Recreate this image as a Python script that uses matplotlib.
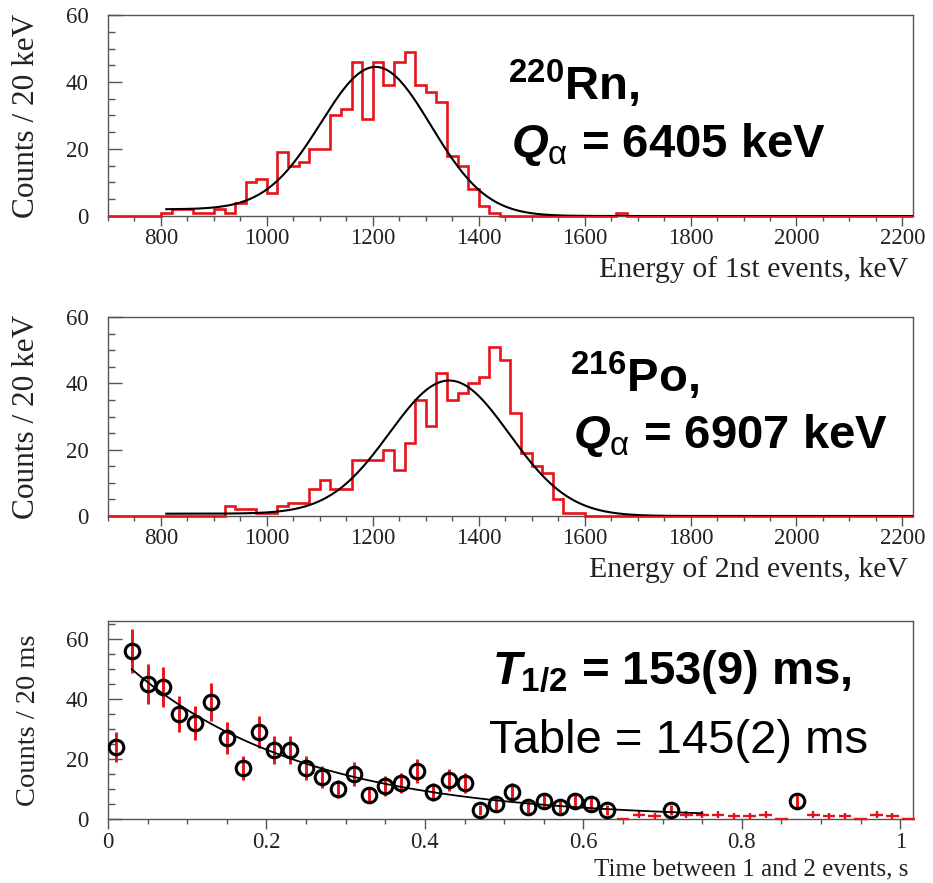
import math
import numpy as np
import matplotlib
matplotlib.use("Agg")
import matplotlib.pyplot as plt
from matplotlib.ticker import MultipleLocator, FuncFormatter

# ---------------- data ----------------
bin_width_keV = 20
energy_range = (700, 2220)

# 1st events (220Rn) histogram, counts per 20 keV bin starting at 800 keV
rn_start_keV = 800
rn_counts = [1, 2, 2, 1, 1, 2, 1, 4, 10, 11, 7, 19, 15, 16, 20, 20, 30, 32, 46, 29,
             46, 39, 46, 49, 39, 37, 34, 18, 15, 8, 3, 1]
rn_isolated_bins_keV = [1660]
rn_isolated_counts = [1]

# 2nd events (216Po) histogram, counts per 20 keV bin starting at 920 keV
po_start_keV = 920
po_counts = [3, 2, 2, 1, 1, 3, 4, 4, 8, 11, 8, 8, 17, 17, 17, 20, 14, 22, 35, 27,
             43, 35, 37, 40, 42, 51, 47, 31, 19, 15, 13, 5, 1, 1]

# Gaussian fits (amplitude, mean, sigma, low-energy tail level, start energy)
rn_fit = dict(amp=43.5, mean=1207.0, sigma=104.0, tail=2.0, start=810.0)
po_fit = dict(amp=40.5, mean=1345.0, sigma=113.0, tail=0.7, start=810.0)

# time differences: bins of 20 ms (centres) with fitted points (circles)
t_fit_pts = [0.01, 0.03, 0.05, 0.07, 0.09, 0.11, 0.13, 0.15, 0.17, 0.19, 0.21, 0.23,
             0.25, 0.27, 0.29, 0.31, 0.33, 0.35, 0.37, 0.39, 0.41, 0.43, 0.45, 0.47,
             0.49, 0.51, 0.53, 0.55, 0.57, 0.59, 0.61, 0.63, 0.71, 0.87]
n_fit_pts = [24, 56, 45, 44, 35, 32, 39, 27, 17, 29, 23, 23,
             17, 14, 10, 15, 8, 11, 12, 16, 9, 13, 12, 3,
             5, 9, 4, 6, 4, 6, 5, 3, 3, 6]
# remaining bins drawn as red crosses only
t_other = [0.65, 0.67, 0.69, 0.73, 0.75, 0.77, 0.79, 0.81, 0.83, 0.85, 0.89, 0.91,
           0.93, 0.95, 0.97, 0.99, 1.01]
n_other = [0, 1.5, 1, 1.5, 1.5, 1.5, 1, 1, 1.5, 0, 1.5, 1, 1, 0, 1.5, 1, 0]
e_other = [0, 1.2, 1.0, 1.2, 1.2, 1.2, 1.0, 1.0, 1.2, 0, 1.2, 1.0, 1.0, 0, 1.2, 1.0, 0]

decay_fit = dict(half_life=0.153, amp0=57.2, t_start=0.03, t_end=0.75)

# ---------------- style ----------------
W, H = 933, 883
plt.rcParams["mathtext.fontset"] = "custom"
plt.rcParams["mathtext.rm"] = "Liberation Sans:bold"
plt.rcParams["mathtext.bf"] = "Liberation Sans:bold"
plt.rcParams["mathtext.it"] = "Liberation Sans:italic:bold"
plt.rcParams["mathtext.sf"] = "Liberation Sans"

SERIF = "Liberation Serif"
RED = "#e8121a"
SPINE = "#555555"
TXT = "#222222"

fig = plt.figure(figsize=(W / 100, H / 100), dpi=100)


def px_axes(left, top, right, bottom):
    return fig.add_axes([left / W, 1 - bottom / H, (right - left) / W, (bottom - top) / H])


def style(ax, xmajor, xminor, ymajor, yminor, ticksize):
    for s in ax.spines.values():
        s.set_color(SPINE)
        s.set_linewidth(1.0)
    ax.xaxis.set_major_locator(MultipleLocator(xmajor))
    ax.xaxis.set_minor_locator(MultipleLocator(xminor))
    ax.yaxis.set_major_locator(MultipleLocator(ymajor))
    ax.yaxis.set_minor_locator(MultipleLocator(yminor))
    ax.tick_params(axis="x", which="both", direction="out", colors=SPINE,
                   labelcolor=TXT, labelsize=ticksize, pad=2, top=False)
    ax.tick_params(axis="x", which="major", length=7, width=1.0)
    ax.tick_params(axis="x", which="minor", length=3.5, width=1.0)
    ax.tick_params(axis="y", which="both", direction="in", colors=SPINE,
                   labelcolor=TXT, labelsize=ticksize, pad=14, right=False)
    ax.tick_params(axis="y", which="major", length=10, width=1.0)
    ax.tick_params(axis="y", which="minor", length=5, width=1.0)


def fix_fonts(ax):
    for lab in ax.get_xticklabels() + ax.get_yticklabels():
        lab.set_family(SERIF)


def gauss_fit(p):
    x = np.linspace(p["start"], energy_range[1], 600)
    g = p["amp"] * np.exp(-0.5 * ((x - p["mean"]) / p["sigma"]) ** 2)
    tail = p["tail"] * 0.5 * np.array([math.erfc((xi - p["mean"]) / (math.sqrt(2) * p["sigma"])) for xi in x])
    return x, g + tail


def full_hist(start, counts, extra_bins=(), extra_counts=()):
    edges = np.arange(energy_range[0], energy_range[1] + bin_width_keV, bin_width_keV)
    vals = np.zeros(len(edges) - 1)
    i0 = (start - energy_range[0]) // bin_width_keV
    vals[i0:i0 + len(counts)] = counts
    for b, c in zip(extra_bins, extra_counts):
        vals[(b - energy_range[0]) // bin_width_keV] = c
    return edges, vals


def energy_panel(ax, start, counts, fit, xlabel, extra_bins=(), extra_counts=()):
    edges, vals = full_hist(start, counts, extra_bins, extra_counts)
    ax.stairs(vals, edges, baseline=None, color=RED, lw=1.9, zorder=3, clip_on=False)
    xf, yf = gauss_fit(fit)
    ax.plot(xf, yf, color="black", lw=1.5, zorder=4)
    ax.set_xlim(*energy_range)
    ax.set_ylim(0, 60)
    style(ax, 200, 50, 20, 5, 16.5)
    ax.set_xticks([800, 1000, 1200, 1400, 1600, 1800, 2000, 2200])
    ax.set_xlabel(xlabel, family=SERIF, fontsize=21.5, color=TXT, ha="right")
    ax.xaxis.set_label_coords(0.994, -0.2)
    ax.set_ylabel("Counts / 20 keV", family=SERIF, fontsize=22.5, color=TXT)
    ax.yaxis.set_label_coords(-0.083, 0.5)
    fix_fonts(ax)


# ---------------- panel 1 ----------------
ax1 = px_axes(108, 15, 913, 216)
energy_panel(ax1, rn_start_keV, rn_counts, rn_fit, "Energy of 1st events, keV",
             rn_isolated_bins_keV, rn_isolated_counts)

# ---------------- panel 2 ----------------
ax2 = px_axes(108, 317, 913, 516)
energy_panel(ax2, po_start_keV, po_counts, po_fit, "Energy of 2nd events, keV")

# ---------------- panel 3 ----------------
ax3 = px_axes(108, 621, 913, 819)
ax3.errorbar(t_other, n_other, yerr=e_other, xerr=0.008, fmt="none",
             ecolor=RED, elinewidth=1.7, capsize=0, zorder=3, clip_on=False)
ax3.errorbar(t_fit_pts, n_fit_pts, yerr=np.sqrt(n_fit_pts), fmt="none",
             ecolor=RED, elinewidth=2.1, capsize=0, zorder=3)
td = np.linspace(decay_fit["t_start"], decay_fit["t_end"], 300)
ax3.plot(td, decay_fit["amp0"] * np.exp(-math.log(2) * td / decay_fit["half_life"]),
         color="black", lw=1.3, zorder=4)
ax3.plot(t_fit_pts, n_fit_pts, "o", ms=10.5, mfc="none", mec="black", mew=2.2, zorder=5)
ax3.set_xlim(0, 1.016)
ax3.set_ylim(0, 66)
style(ax3, 0.2, 0.05, 20, 5, 16.5)
ax3.xaxis.set_major_formatter(FuncFormatter(lambda v, p: f"{v:g}"))
ax3.set_xlabel("Time between 1 and 2 events, s", family=SERIF, fontsize=18, color=TXT, ha="right")
ax3.xaxis.set_label_coords(0.994, -0.2)
ax3.set_ylabel("Counts / 20 ms", family=SERIF, fontsize=20.5, color=TXT)
ax3.yaxis.set_label_coords(-0.083, 0.5)
fix_fonts(ax3)

# ---------------- annotations ----------------
ANN = dict(family="Liberation Sans", fontsize=34, color="black", va="baseline", ha="left")


def ptext(x, y, s, **kw):
    d = dict(ANN)
    d.update(kw)
    fig.text(x / W, 1 - y / H, s, **d)


ptext(508, 100, r"$^{220}$Rn,", fontweight="bold")
ptext(511, 157, r"$Q_{\mathsf{α}}$ = 6405 keV", fontweight="bold")
ptext(570, 392, r"$^{216}$Po,", fontweight="bold")
ptext(573, 448, r"$Q_{\mathsf{α}}$ = 6907 keV", fontweight="bold")
ptext(492, 684, r"$T_{1/2}$ = 153(9) ms,", fontweight="bold")
ptext(489, 753, "Table = 145(2) ms", fontweight="normal")

fig.savefig("out.png", dpi=100)
